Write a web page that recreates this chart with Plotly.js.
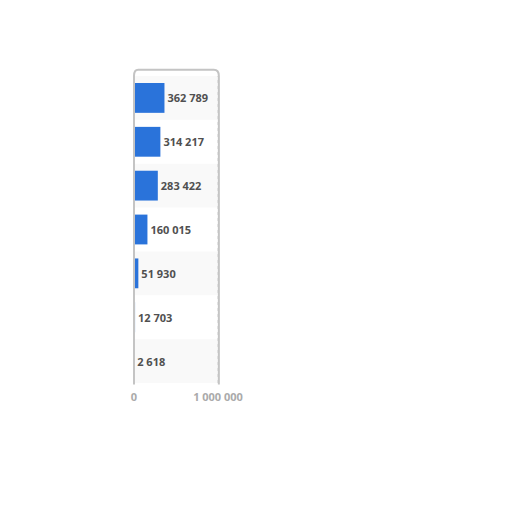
<!DOCTYPE html>
<html>
<head>
<meta charset="utf-8">
<script src="https://cdn.plot.ly/plotly-3.0.1.min.js"></script>
<style>html,body{margin:0;padding:0;background:#fff;}#chart{width:512px;height:512px;}</style>
</head>
<body>
<div id="chart"></div>
<script>
var categories = ["Rang 1", "Rang 2", "Rang 3", "Rang 4", "Rang 5", "Rang 6", "Rang 7"];
var values = [362789, 314217, 283422, 160015, 51930, 12703, 2618];
var tickValues = [0, 1000000];
var tickLabels = ["0", "1 000 000"];

function fmt(v) {
  return String(v).replace(/\B(?=(\d{3})+(?!\d))/g, " ");
}

var shapes = [];
for (var i = 0; i < categories.length; i++) {
  if (i % 2 === 0) {
    shapes.push({
      type: "rect", layer: "below", xref: "paper", yref: "y",
      x0: 0, x1: 1, y0: i - 0.5, y1: i + 0.5,
      fillcolor: "#f9f9f9", line: {width: 0}
    });
  }
}
shapes.push({
  type: "line", xref: "x", yref: "paper", x0: 1000000, x1: 1000000, y0: 0, y1: 1,
  line: {color: "#d0d0d0", width: 1, dash: "dot"}, layer: "below"
});
shapes.push({
  type: "path", xref: "paper", yref: "paper",
  path: "M 0,-0.005 L 0,1.0 Q 0,1.02 0.05,1.02 L 0.95,1.02 Q 1.01,1.02 1.01,1.0 L 1.01,-0.005",
  line: {color: "#c4c4c4", width: 2}
});

var trace = {
  type: "bar",
  orientation: "h",
  y: categories,
  x: values,
  text: values.map(fmt),
  textposition: "outside",
  cliponaxis: false,
  textfont: {family: "Open Sans, DejaVu Sans, sans-serif", size: 11, color: "#505050", weight: "bold"},
  marker: {color: "#2a73da"},
  hoverinfo: "none"
};

var layout = {
  width: 512, height: 512,
  margin: {l: 134, r: 294, t: 76, b: 129, pad: 0},
  paper_bgcolor: "#ffffff",
  plot_bgcolor: "#ffffff",
  showlegend: false,
  bargap: 0.32,
  separators: ". ",
  font: {family: "Open Sans, DejaVu Sans, sans-serif", size: 11, color: "#666666"},
  xaxis: {
    range: [0, 1000000],
    tickvals: tickValues,
    ticktext: tickLabels,
    showgrid: false,
    zeroline: false,
    showline: false,
    ticks: "",
    ticklabelstandoff: 6,
    tickfont: {size: 11, color: "#aaaaaa", weight: "bold"}
  },
  yaxis: {
    autorange: "reversed",
    showticklabels: false,
    showgrid: false,
    zeroline: false,
    showline: false,
    ticks: ""
  },
  shapes: shapes
};

Plotly.newPlot("chart", [trace], layout, {displayModeBar: false, staticPlot: true});
</script>
</body>
</html>
